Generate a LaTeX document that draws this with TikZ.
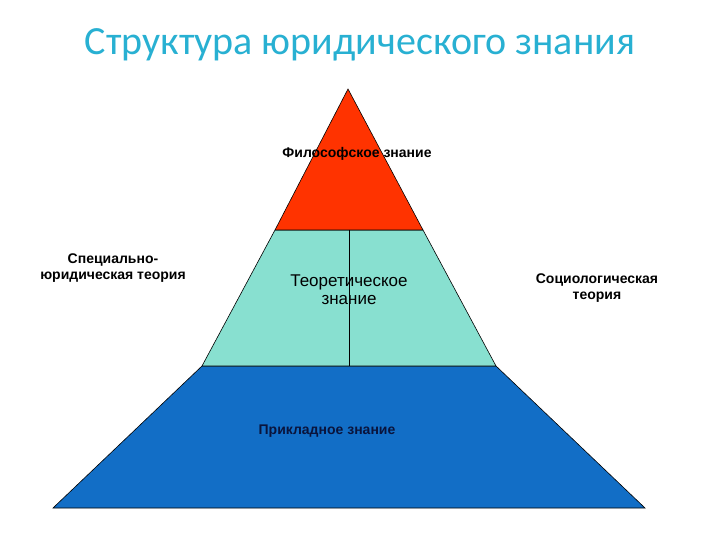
\documentclass[tikz,border=0pt]{standalone}
\usepackage{fontspec}
\setmainfont{Liberation Sans}
\newfontfamily\titlefont{Carlito}
\definecolor{tred}{RGB}{255,51,0}
\definecolor{tteal}{RGB}{136,224,208}
\definecolor{tblue}{RGB}{18,110,198}
\definecolor{ttitle}{RGB}{40,176,210}
\tikzset{lbl/.style={align=center, font=\bfseries\fontsize{14}{16}\selectfont}}
\begin{document}
\begin{tikzpicture}[x=1pt,y=-1pt]
\useasboundingbox (0,0) rectangle (720,540);
\coordinate (top) at (348,89);
\coordinate (r1) at (275,230);
\coordinate (r2) at (423,230);
\coordinate (t1) at (202,366);
\coordinate (t2) at (496,366);
\coordinate (b1) at (53,508);
\coordinate (b2) at (645,508);
\coordinate (m1) at (349,230);
\coordinate (m2) at (349,366);
\path[draw,fill=tblue,line width=0.6pt] (t1) -- (t2) -- (b2) -- (b1) -- cycle;
\path[draw,fill=tteal,line width=0.6pt] (r1) -- (r2) -- (t2) -- (t1) -- cycle;
\path[draw,fill=tred,line width=0.6pt] (top) -- (r2) -- (r1) -- cycle;
\path[draw,line width=0.6pt] (m1) -- (m2);
\node[text=ttitle, font=\titlefont\fontsize{40}{44}\selectfont] (title) at (360,45) {Структура юридического знания};
\node[lbl] (phil) at (357,154) {Философское знание};
\node[align=center, font=\fontsize{17}{18}\selectfont] (theor) at (349,290) {Теоретическое\\знание};
\node[lbl, text={rgb,255:red,10;green,20;blue,60}] (appl) at (327,431) {Прикладное знание};
\node[lbl] (spec) at (113,268) {Специально-\\юридическая теория};
\node[lbl] (soc) at (597,288) {Социологическая\\теория};
\end{tikzpicture}
\end{document}
